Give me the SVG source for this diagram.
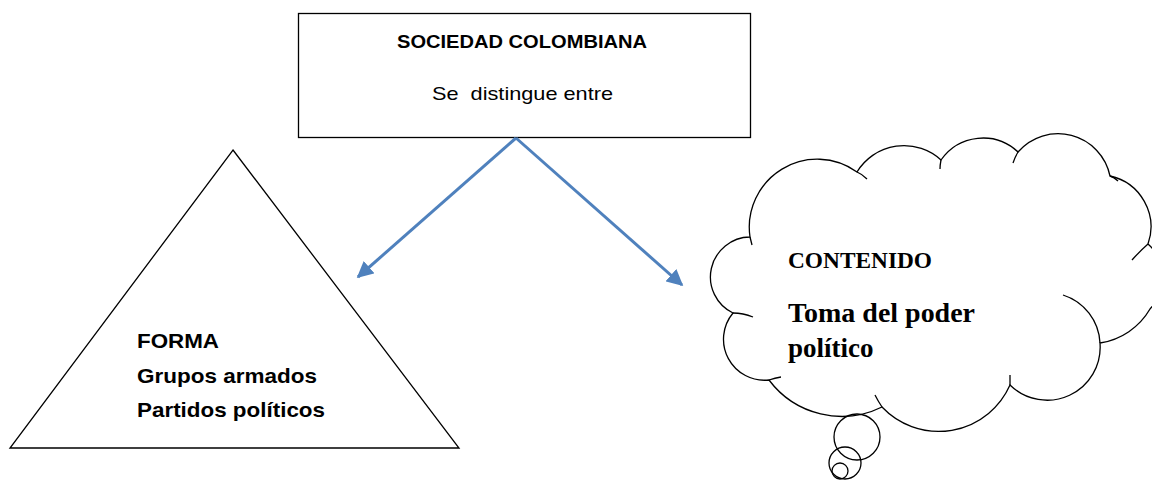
<svg xmlns="http://www.w3.org/2000/svg" width="1152" height="481" viewBox="0 0 1152 481">
<defs>
<style>
.shape{fill:#fff;stroke:#000;stroke-width:1.3}
.line{fill:none;stroke:#000;stroke-width:1.3}
.conn{fill:none;stroke:#4F81BD;stroke-width:3}
.sans{font-family:"Liberation Sans",Arial,sans-serif;fill:#000}
.serif{font-family:"Liberation Serif","Times New Roman",serif;font-weight:bold;fill:#000}
</style>
<marker id="arr" viewBox="0 0 10 10" refX="9" refY="5" markerWidth="5.5" markerHeight="5.5" orient="auto" markerUnits="strokeWidth">
<path d="M0,0 L10,5 L0,10 z" fill="#4F81BD"/>
</marker>
</defs>
<rect width="1152" height="481" fill="#fff"/>

<g id="node-sociedad">
<rect class="shape" x="298.5" y="13.5" width="452" height="124"/>
<text class="sans" x="397" y="48" font-size="18.5" font-weight="bold" textLength="250" lengthAdjust="spacingAndGlyphs">SOCIEDAD COLOMBIANA</text>
<text class="sans" x="432" y="100" font-size="19" textLength="181" lengthAdjust="spacingAndGlyphs" xml:space="preserve">Se  distingue entre</text>
</g>

<g id="node-forma">
<polygon class="shape" points="233,150 459,448 10,448"/>
<text class="sans" x="137" y="348" font-size="21" font-weight="bold" textLength="82" lengthAdjust="spacingAndGlyphs">FORMA</text>
<text class="sans" x="137" y="383" font-size="21" font-weight="bold" textLength="180" lengthAdjust="spacingAndGlyphs">Grupos armados</text>
<text class="sans" x="137" y="417" font-size="21" font-weight="bold" textLength="188" lengthAdjust="spacingAndGlyphs">Partidos políticos</text>
</g>

<g id="node-contenido">
<path class="shape" d="M750,237 A68,68 0 0 1 857,172 A55,55 0 0 1 941,160 A51,51 0 0 1 1018,152 A53,53 0 0 1 1110,176 A52,52 0 0 1 1148,244 A45,45 0 0 1 1150,309 A70,70 0 0 1 1100,343 A53,53 0 0 1 1010,385 A78,78 0 0 1 882,407 A91,91 0 0 1 769,380 A41,41 0 0 1 733,313 A40,40 0 0 1 750,237 Z"/>
<path class="line" d="M750,237 Q751,241 752,245 M857,172 Q862,174 867,179 M941,160 Q940,165 940,169 M1018,152 Q1015,157 1013,163 M1110,176 Q1114,177 1118,181 M1148,244 Q1140,251 1132,260 M1063,295 A53,53 0 0 1 1100,343 M1010,385 Q1010,380 1010,375 M882,407 Q878,401 875,395 M769,380 Q775,378 781,377 M733,313 Q743,313 753,317"/>
<circle class="line" cx="857" cy="437" r="23"/>
<circle class="line" cx="845" cy="463" r="16"/>
<circle class="line" cx="840" cy="471" r="8"/>
<text class="serif" x="788" y="268" font-size="23" textLength="144" lengthAdjust="spacingAndGlyphs">CONTENIDO</text>
<text class="serif" x="788" y="322" font-size="27" textLength="187" lengthAdjust="spacingAndGlyphs">Toma del poder</text>
<text class="serif" x="788" y="357" font-size="27">político</text>
</g>

<g id="connectors">
<line class="conn" x1="516" y1="138" x2="358" y2="277" marker-end="url(#arr)"/>
<line class="conn" x1="516" y1="138" x2="682" y2="285" marker-end="url(#arr)"/>
</g>
</svg>
